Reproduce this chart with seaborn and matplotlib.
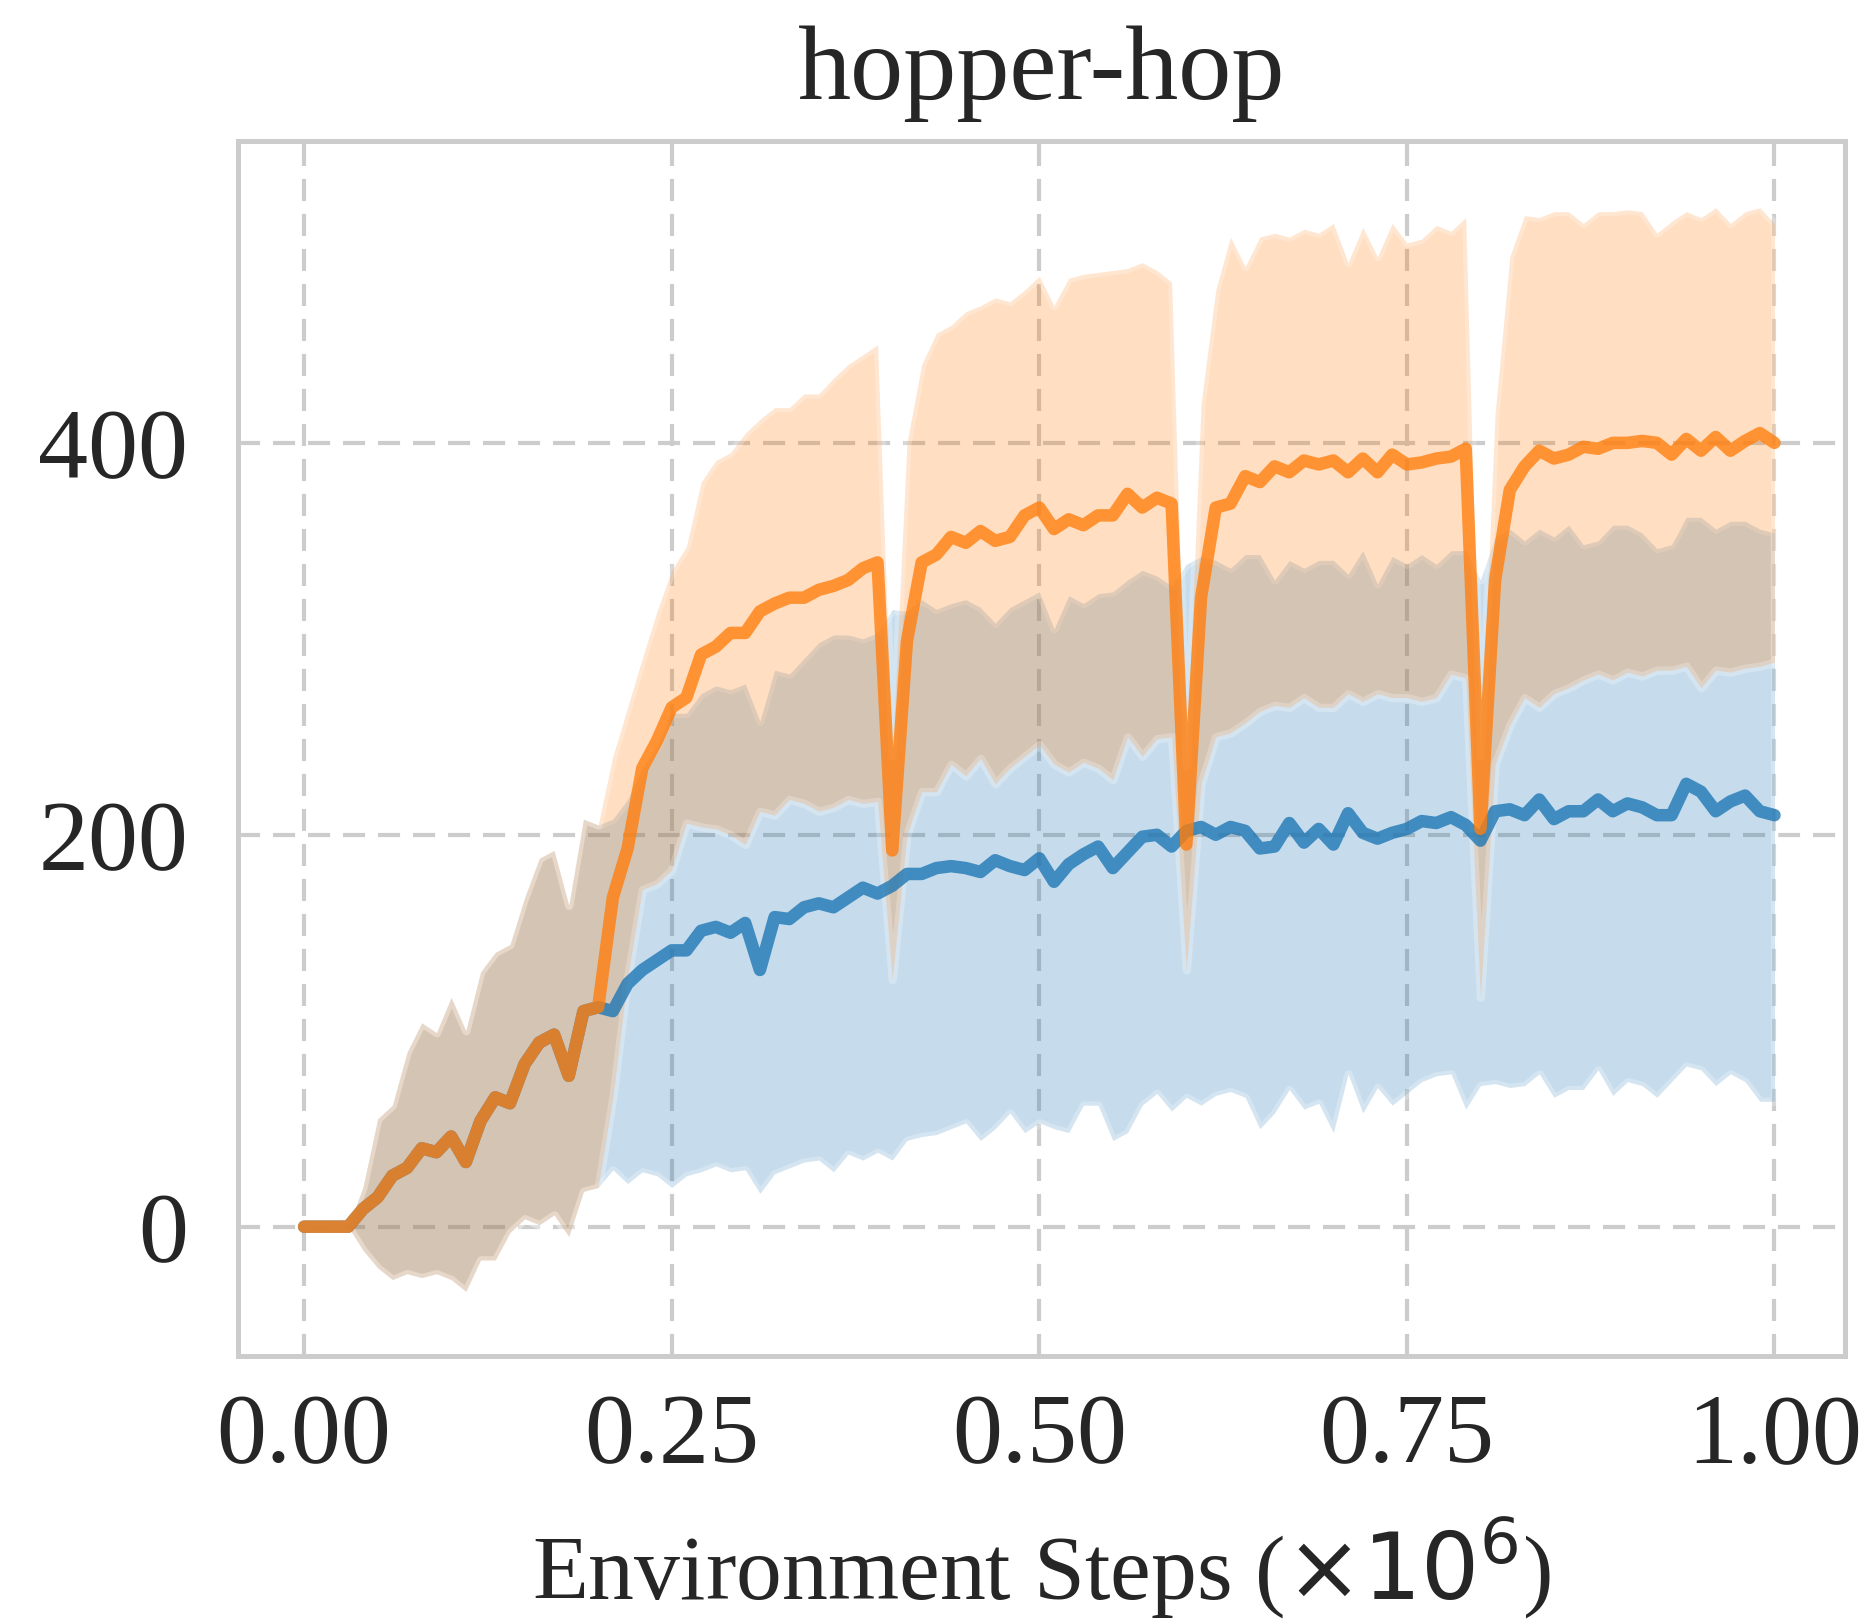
import numpy as np
import pandas as pd
import seaborn as sns
import matplotlib.pyplot as plt

# ---------------- data ----------------
STEPS = np.round(np.arange(101) * 0.01, 2)  # environment steps (x1e6)

# shared phase, x = 0.00 .. 0.20
PRE_MEAN = [0, 0, 0, 0, 9, 15, 26, 30, 40, 38, 46, 33, 54, 66, 63, 83, 94, 98, 77, 110, 112]
PRE_HIGH = [0, 0, 0, 0, 20, 55, 62, 89, 104, 99, 117, 100, 130, 140, 144, 168, 188, 192, 164, 208, 205]
PRE_LOW = [0, 0, 0, 0, -12, -21, -27, -24, -26, -24, -27, -33, -17, -17, -3, 4, 1, 6, -5, 18, 20]

# blue series, x = 0.21 .. 1.00
BLUE_MEAN = [110, 124, 131, 136, 141, 141, 151, 153, 150, 155,
             131, 158, 157, 163, 165, 163, 168, 173, 170, 174,
             180, 180, 183, 184, 183, 181, 187, 184, 182, 188,
             176, 185, 190, 194, 183, 191, 199, 200, 194, 202,
             204, 200, 204, 202, 193, 194, 206, 196, 203, 195,
             211, 201, 198, 201, 203, 207, 206, 209, 205, 197,
             212, 213, 210, 218, 208, 212, 212, 218, 212, 216,
             214, 210, 210, 226, 222, 212, 217, 220, 212, 210]
BLUE_HIGH = [208, 218, 234, 245, 262, 262, 272, 276, 274, 277,
             258, 284, 282, 290, 298, 302, 302, 300, 303, 315,
             314, 320, 315, 318, 320, 316, 308, 316, 320, 324,
             305, 322, 318, 323, 324, 330, 335, 332, 327, 338,
             342, 340, 336, 343, 343, 330, 340, 336, 340, 340,
             333, 345, 328, 342, 338, 343, 338, 345, 345, 330,
             352, 356, 350, 356, 352, 358, 348, 350, 358, 358,
             354, 346, 348, 362, 362, 356, 360, 360, 356, 354]
BLUE_LOW = [29, 22, 28, 26, 20, 26, 28, 31, 28, 29,
            17, 27, 30, 33, 34, 28, 37, 34, 38, 34,
            44, 46, 47, 50, 53, 44, 50, 58, 48, 53,
            50, 48, 62, 62, 44, 48, 62, 68, 59, 66,
            62, 67, 69, 66, 50, 58, 70, 60, 63, 48,
            78, 58, 71, 62, 68, 74, 77, 78, 60, 72,
            73, 71, 72, 78, 66, 70, 70, 80, 67, 74,
            72, 66, 74, 82, 80, 72, 78, 74, 64, 64]

# orange series, x = 0.21 .. 1.00
ORANGE_MEAN = [168, 193, 234, 248, 265, 270, 292, 296, 303, 303,
               314, 318, 321, 321, 325, 327, 330, 336, 339, 192,
               299, 339, 343, 352, 349, 355, 350, 352, 363, 367,
               356, 361, 358, 363, 363, 374, 367, 372, 369, 195,
               321, 367, 369, 383, 380, 388, 385, 391, 389, 391,
               385, 392, 385, 394, 389, 390, 392, 393, 397, 203,
               330, 376, 388, 396, 392, 394, 398, 397, 400, 400,
               401, 400, 394, 402, 396, 403, 396, 401, 405, 400]
ORANGE_HIGH = [240, 265, 290, 314, 335, 347, 380, 391, 395, 405,
               412, 418, 418, 425, 425, 433, 440, 445, 450, 240,
               400, 440, 456, 460, 467, 470, 474, 472, 478, 485,
               470, 484, 486, 487, 488, 489, 492, 488, 482, 235,
               420, 478, 505, 490, 505, 507, 505, 509, 507, 512,
               492, 510, 495, 512, 502, 504, 511, 508, 515, 240,
               415, 495, 516, 515, 518, 518, 512, 518, 518, 519,
               518, 507, 513, 518, 515, 520, 512, 518, 520, 512]
ORANGE_LOW = [66, 127, 172, 175, 182, 206, 204, 203, 200, 195,
              212, 210, 218, 216, 212, 214, 218, 216, 217, 126,
              200, 222, 222, 236, 230, 239, 226, 234, 240, 246,
              236, 232, 237, 234, 228, 250, 240, 249, 250, 131,
              226, 250, 252, 257, 263, 266, 265, 270, 265, 265,
              272, 268, 272, 270, 270, 268, 270, 282, 280, 117,
              236, 256, 270, 265, 272, 275, 279, 282, 279, 283,
              281, 284, 284, 286, 275, 284, 283, 285, 286, 288]

YTICKS = [0, 200, 400]

BLUE = "#1f77b4"
ORANGE = "#ff7f0e"

# ---------------- assemble ----------------
blue_mean = np.array(PRE_MEAN + BLUE_MEAN, dtype=float)
blue_high = np.array(PRE_HIGH + BLUE_HIGH, dtype=float)
blue_low = np.array(PRE_LOW + BLUE_LOW, dtype=float)
orange_mean = np.array(PRE_MEAN + ORANGE_MEAN, dtype=float)
orange_high = np.array(PRE_HIGH + ORANGE_HIGH, dtype=float)
orange_low = np.array(PRE_LOW + ORANGE_LOW, dtype=float)

df = pd.DataFrame({
    "step": np.concatenate([STEPS, STEPS]),
    "ret": np.concatenate([blue_mean, orange_mean]),
    "method": ["blue"] * len(STEPS) + ["orange"] * len(STEPS),
})

sns.set_theme(style="whitegrid")
plt.rcParams["font.family"] = ["Liberation Serif", "DejaVu Sans"]
plt.rcParams["mathtext.fontset"] = "dejavusans"

fig, ax = plt.subplots(figsize=(1869 / 300, 1622 / 300), dpi=300)
fig.subplots_adjust(left=0.1273, right=0.9872, bottom=0.164, top=0.913)

ax.fill_between(STEPS, blue_low, blue_high, facecolor=BLUE, edgecolor="white",
                linewidth=2.0, alpha=0.25)
ax.fill_between(STEPS, orange_low, orange_high, facecolor=ORANGE, edgecolor="white",
                linewidth=2.0, alpha=0.25)

sns.lineplot(data=df, x="step", y="ret", hue="method",
             palette={"blue": BLUE, "orange": ORANGE},
             linewidth=3.0, alpha=0.8, legend=False, errorbar=None, ax=ax)

ax.set_xlim(-0.045, 1.048)
ax.set_ylim(-66, 554)
ax.set_xticks([0.0, 0.25, 0.5, 0.75, 1.0])
ax.set_xticklabels(["0.00", "0.25", "0.50", "0.75", "1.00"])
ax.set_yticks(YTICKS)
ax.grid(True, linestyle=(0, (5.3, 3.1)), color="#cccccc", linewidth=1.0)
ax.set_axisbelow(True)
for sp in ax.spines.values():
    sp.set_color("#cccccc")
    sp.set_linewidth(1.2)

ax.tick_params(axis="both", labelsize=24, colors="#262626", length=0)
ax.tick_params(axis="x", pad=9)
ax.tick_params(axis="y", pad=12)
ax.set_title("hopper-hop", fontsize=25.5, pad=10, color="#262626")
ax.set_xlabel(r"Environment Steps ($\times 10^6$)", fontsize=22, labelpad=7,
              color="#262626")
ax.set_ylabel("")

fig.savefig("out.png", dpi=300)
